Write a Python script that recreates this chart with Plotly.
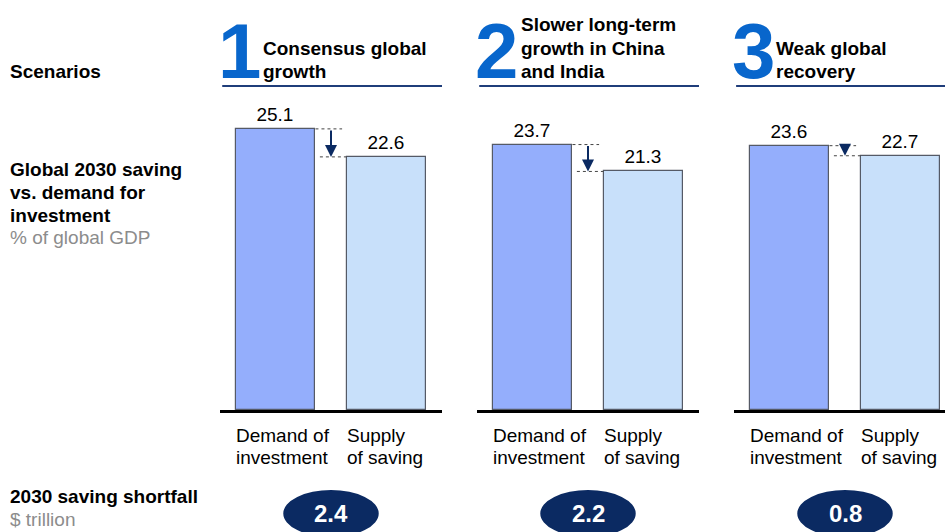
import plotly.graph_objects as go

W, H = 945, 532
FONT = "Arial, Liberation Sans, sans-serif"
NARROW = "Arial Narrow, Liberation Sans Narrow, Arial, Liberation Sans, sans-serif"

scenario_nums = ["1", "2", "3"]
scenario_titles = [["Consensus global", "growth"],
                   ["Slower long-term", "growth in China", "and India"],
                   ["Weak global", "recovery"]]
categories = [["Demand of", "investment"], ["Supply", "of saving"]]
demand = [25.1, 23.7, 23.6]
supply = [22.6, 21.3, 22.7]
shortfall = [2.4, 2.2, 0.8]

DEMAND_COLOR = "#94aefc"
SUPPLY_COLOR = "#c8e0fa"
NAVY = "#0b2a62"
BLUE = "#0866cc"
LINE_H = 23

def py(p):
    return (H - p) / H

fig = go.Figure()

def add_lines(lines, x, y_last, xref, xanchor, size, color, bold=False):
    n = len(lines)
    for k, t in enumerate(lines):
        yy = y_last - (n - 1 - k) * LINE_H
        fig.add_annotation(x=x, y=py(yy), xref=xref, yref="paper",
                           text=f"<b>{t}</b>" if bold else t, showarrow=False,
                           font=dict(size=size, family=FONT, color=color),
                           xanchor=xanchor, yanchor="middle", align="left")

lefts = [220, 477, 734]
title_x = [261, 519, 774]
unit = 111.0
axes = ["x", "x2", "x3"]
layout_axes = {}
for i, left in enumerate(lefts):
    right = min(left + 2 * unit, W)
    rng_hi = -0.5 + (right - left) / unit
    name = "xaxis" if i == 0 else f"xaxis{i+1}"
    layout_axes[name] = dict(domain=[left / W, right / W], range=[-0.5, rng_hi],
                             anchor="y", showline=True, linecolor="black", linewidth=2.5,
                             showticklabels=False, ticks="", showgrid=False, zeroline=False,
                             fixedrange=True)
    ax = axes[i]
    vals = [demand[i], supply[i]]
    fig.add_trace(go.Bar(x=[0, 1], y=vals, xaxis=ax, yaxis="y", width=0.72,
                         marker=dict(color=[DEMAND_COLOR, SUPPLY_COLOR],
                                     line=dict(color="#555a66", width=1.2)),
                         text=[f"{v:.1f}" for v in vals], textposition="outside",
                         textfont=dict(size=19, color="black", family=FONT),
                         cliponaxis=False, showlegend=False, hoverinfo="skip"))
    # category labels
    for j, c in enumerate(categories):
        n = len(c)
        for k, t in enumerate(c):
            fig.add_annotation(x=j - 0.36 - 0.01, y=py(457 - (n - 1 - k) * 22), xref=ax, yref="paper",
                               text=t, showarrow=False,
                               font=dict(size=19, family=FONT, color="black"),
                               xanchor="left", yanchor="middle")
    # dotted connectors
    fig.add_shape(type="line", xref=ax, yref="y", x0=0.36, x1=0.6, y0=demand[i], y1=demand[i],
                  line=dict(color="#444", width=1, dash="dot"))
    fig.add_shape(type="line", xref=ax, yref="y", x0=0.4, x1=0.64, y0=supply[i], y1=supply[i],
                  line=dict(color="#444", width=1, dash="dot"))
    # arrow
    fig.add_annotation(x=0.5, y=supply[i], ax=0.5, ay=demand[i], xref=ax, yref="y",
                       axref=ax, ayref="y", showarrow=True, arrowhead=2, arrowsize=1.2,
                       arrowwidth=2, arrowcolor=NAVY, text="", standoff=0)
    # header
    dom = "x domain" if i == 0 else f"x{i+1} domain"
    fig.add_shape(type="line", xref=dom, yref="paper", x0=0.01, x1=1,
                  y0=py(86), y1=py(86), line=dict(color="#1f3d7a", width=2))
    fig.add_annotation(x=(left - 4) / W, y=py(51), xref="paper", yref="paper",
                       text=f"<b>{scenario_nums[i]}</b>", showarrow=False,
                       font=dict(size=78, family=NARROW, color=BLUE),
                       xanchor="left", yanchor="middle")
    add_lines(scenario_titles[i], title_x[i] / W, 71, "paper", "left", 19, "black", bold=True)
    # shortfall ellipse
    fig.add_shape(type="circle", xref=ax, yref="paper", x0=0.5 - 0.43, x1=0.5 + 0.43,
                  y0=py(537), y1=py(490), fillcolor=NAVY, line=dict(width=0))
    fig.add_annotation(x=0.5, y=py(513), xref=ax, yref="paper",
                       text=f"<b>{shortfall[i]:.1f}</b>", showarrow=False,
                       font=dict(size=24, family=FONT, color="white"),
                       xanchor="center", yanchor="middle")

# left labels
LX = 8 / W
add_lines(["Scenarios"], LX, 71, "paper", "left", 19, "black", bold=True)
add_lines(["Global 2030 saving", "vs. demand for", "investment"], LX, 215, "paper", "left", 19, "black", bold=True)
add_lines(["% of global GDP"], LX, 238, "paper", "left", 19, "#8c8c8c")
add_lines(["2030 saving shortfall"], LX, 496, "paper", "left", 19, "black", bold=True)
add_lines(["$ trillion"], LX, 519, "paper", "left", 19, "#8c8c8c")

fig.update_layout(
    width=W, height=H, margin=dict(l=0, r=0, t=0, b=0),
    paper_bgcolor="white", plot_bgcolor="white",
    yaxis=dict(domain=[py(410), 1], range=[0, 410 / 11.2], visible=False, fixedrange=True),
    bargap=0, showlegend=False,
    font=dict(family=FONT),
    **layout_axes,
)

fig.write_html("out.html", config={"displayModeBar": False},
               post_script="document.body.style.margin='0';document.body.style.overflow='hidden';")
